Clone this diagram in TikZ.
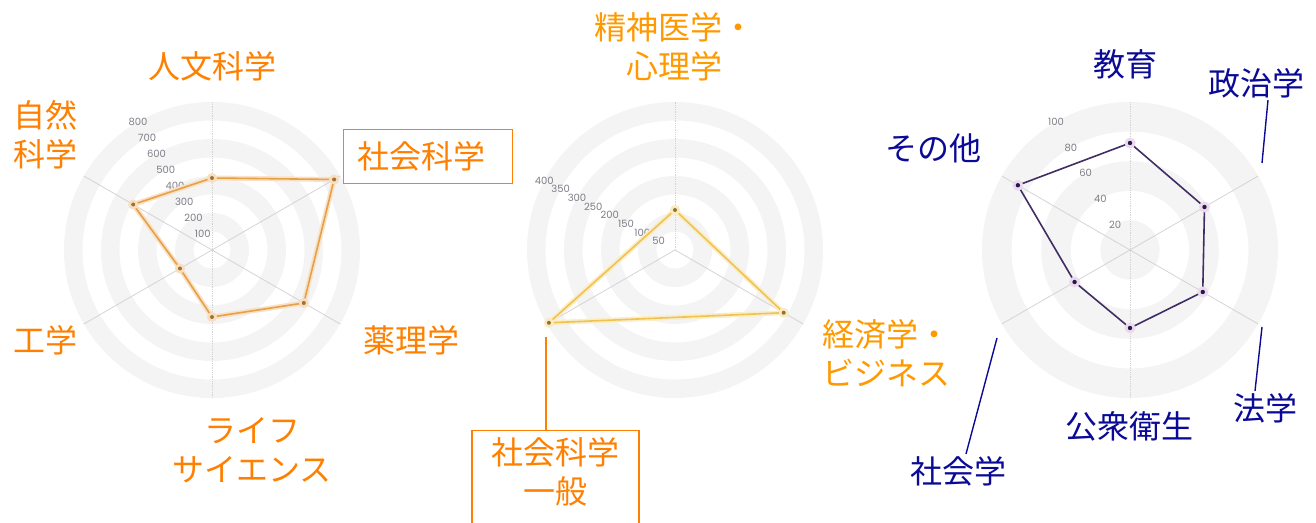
\documentclass[tikz,border=0pt]{standalone}
\usepackage{fontspec}
\setmainfont{Noto Sans CJK JP}
\newfontfamily\tickfont{Poppins}
\usetikzlibrary{calc}

\definecolor{ringgray}{RGB}{244,244,244}
\definecolor{axisgray}{RGB}{212,212,212}
\definecolor{tickgray}{RGB}{125,125,135}
\definecolor{lblorange}{RGB}{255,128,0}
\definecolor{lblamber}{RGB}{255,153,0}
\definecolor{lblnavy}{RGB}{10,10,150}
\definecolor{lineorange}{RGB}{232,160,70}
\definecolor{lineamber}{RGB}{240,195,80}
\definecolor{linepurple}{RGB}{65,45,100}
\definecolor{dotnavy}{RGB}{35,25,80}

\tikzset{
  ring/.style={fill=ringgray, even odd rule},
  axis/.style={draw=axisgray, line width=0.8pt},
  vaxis/.style={axis, densely dotted},
  tick/.style={font=\tickfont\fontsize{10}{12}\selectfont, text=tickgray, inner sep=0pt},
  lbl/.style={font=\fontsize{32}{39}\selectfont, inner sep=2pt, align=center},
  boxlbl/.style={lbl, draw=lblorange, line width=1.4pt, text=lblorange},
  navyline/.style={draw=lblnavy, line width=1.4pt},
  orangeline/.style={draw=lblorange, line width=2pt},
}

\begin{document}
\begin{tikzpicture}[x=1pt,y=1pt]
    \useasboundingbox (0,0) rectangle (1316,522);

    % Chart 1: all fields
    \begin{scope}[shift={(212,272)}]
    \coordinate (c1) at (0,0);
    \foreach \a/\b in {18.5/37,55.5/74,92.5/111,129.5/148}
        \fill[ring] (c1) circle (\b) circle (\a);
    \draw[vaxis] (90:148) -- (-90:148);
    \foreach \t in {30,-30,-150,150}
        \draw[axis] (c1) -- (\t:148);
    \foreach \k/\v in {1/100,2/200,3/300,4/400,5/500,6/600,7/700,8/800}
        \node[tick] (t1-\k) at (120:\k*18.5) {\v};

    % Points
    \coordinate (a1) at (90:72);
    \coordinate (a2) at (30:141);
    \coordinate (a3) at (-30:106);
    \coordinate (a4) at (-90:67);
    \coordinate (a5) at (-150:37);
    \coordinate (a6) at (150:91);
    \draw[line width=5pt, lineorange!30, line join=round] (a1) -- (a2) -- (a3) -- (a4) -- (a5) -- (a6) -- cycle;
    \draw[line width=1.6pt, lineorange, line join=round] (a1) -- (a2) -- (a3) -- (a4) -- (a5) -- (a6) -- cycle;
    \foreach \p in {a1,a2,a3,a4,a5,a6} {
        \fill[lineorange!35] (\p) circle (5);
        \fill[lineorange!70!black] (\p) circle (2);
    }
    \end{scope}

    % Chart 1 labels
    \node[lbl, text=lblorange] (hum) at (212,456) {人文科学};
    \node[lbl, text=lblorange, anchor=west, align=left] (nat) at (11,387) {自然\\科学};
    \node[boxlbl, anchor=north west, text width=141pt, inner xsep=14pt, minimum height=54pt, align=left] (soc) at (343,393) {社会科学};
    \node[lbl, text=lblorange] (pharm) at (411,182) {薬理学};
    \node[lbl, text=lblorange] (eng) at (45,182) {工学};
    \node[lbl, text=lblorange] (life) at (252,72) {ライフ\\サイエンス};

    % Chart 2: social sciences
    \begin{scope}[shift={(675,272)}]
    \coordinate (c2) at (0,0);
    \foreach \a/\b in {18.5/37,55.5/74,92.5/111,129.5/148}
        \fill[ring] (c2) circle (\b) circle (\a);
    \draw[vaxis] (c2) -- (90:148);
    \foreach \t in {-30,-150}
        \draw[axis] (c2) -- (\t:148);
    \foreach \k/\v in {1/50,2/100,3/150,4/200,5/250,6/300,7/350,8/400}
        \node[tick] (t2-\k) at (152:\k*18.5) {\v};

    % Points
    \coordinate (b1) at (90:40);
    \coordinate (b2) at (-30:125.5);
    \coordinate (b3) at (-150:145.6);
    \draw[line width=5pt, lineamber!30, line join=round] (b1) -- (b2) -- (b3) -- cycle;
    \draw[line width=1.6pt, lineamber, line join=round] (b1) -- (b2) -- (b3) -- cycle;
    \foreach \p in {b1,b2,b3} {
        \fill[lineamber!35] (\p) circle (5);
        \fill[lineamber!60!black] (\p) circle (2);
    }
    \end{scope}

    % Chart 2 labels
    \node[lbl, text=lblamber] (psy) at (674,475) {精神医学・\\心理学};
    \node[lbl, text=lblamber, anchor=west, align=left] (econ) at (820,169) {経済学・\\ビジネス};
    \node[boxlbl, anchor=north, minimum width=167pt, inner ysep=7pt] (ippan) at (555.5,92) {社会科学\\一般\\\strut};
    \coordinate (ippanend) at (546,185);
    \draw[orangeline] ([xshift=-9.5pt]ippan.north) -- (ippanend);

    % Chart 3: social sciences, other
    \begin{scope}[shift={(1130,272)}]
    \coordinate (c3) at (0,0);
    \fill[ringgray] (c3) circle (29.6);
    \foreach \a/\b in {59.2/88.8,118.4/148}
        \fill[ring] (c3) circle (\b) circle (\a);
    \draw[vaxis] (90:148) -- (-90:148);
    \foreach \t in {30,-30,-150,150}
        \draw[axis] (c3) -- (\t:148);
    \foreach \k/\v in {1/20,2/40,3/60,4/80,5/100}
        \node[tick] (t3-\k) at (120:\k*29.6) {\v};

    % Points
    \coordinate (d1) at (90:107);
    \coordinate (d2) at (30:86);
    \coordinate (d3) at (-30:84);
    \coordinate (d4) at (-90:78);
    \coordinate (d5) at (-150:64);
    \coordinate (d6) at (150:129.5);
    \draw[line width=1.6pt, linepurple, line join=round] (d1) -- (d2) -- (d3) -- (d4) -- (d5) -- (d6) -- cycle;
    \foreach \p in {d1,d2,d3,d4,d5,d6} {
        \fill[violet!15] (\p) circle (5.5);
        \fill[dotnavy] (\p) circle (2.2);
    }
    \end{scope}

    % Chart 3 labels
    \node[lbl, text=lblnavy] (edu) at (1125,458) {教育};
    \node[lbl, text=lblnavy] (pol) at (1256,439) {政治学};
    \node[lbl, text=lblnavy] (other) at (933,374) {その他};
    \node[lbl, text=lblnavy] (law) at (1265,114) {法学};
    \node[lbl, text=lblnavy] (pub) at (1129,96) {公衆衛生};
    \node[lbl, text=lblnavy] (socio) at (958,51) {社会学};
    \coordinate (polend) at (1262,359);
    \coordinate (lawend) at (1262,195);
    \coordinate (socioend) at (997,184);
    \draw[navyline] ([xshift=12pt]pol.south) -- (polend);
    \draw[navyline] ([xshift=-10pt]law.north) -- (lawend);
    \draw[navyline] ([xshift=8pt]socio.north) -- (socioend);
\end{tikzpicture}
\end{document}
